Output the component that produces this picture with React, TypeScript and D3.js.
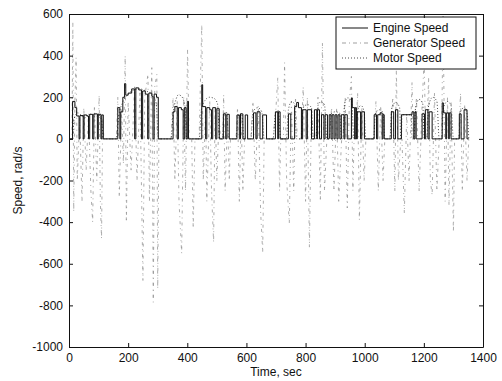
import React, { useEffect, useRef } from "react";
import * as d3 from "d3";

const W = 502;
const H = 381;
const MARGIN = { top: 14, right: 19, bottom: 34, left: 69 };

type Pt = [number, number];

// engine speed, rad/s (step changes)
const engineSpeed: Pt[] = [
  [0, 0], [12, 180], [20, 150], [26, 110], [34, 0], [37, 112], [48, 0], [51, 115], [60, 110], [66, 0],
  [70, 118], [80, 0], [84, 120], [96, 0], [99, 118], [108, 0], [111, 115], [116, 0],
  [165, 150], [172, 0], [175, 130], [182, 200], [188, 265], [192, 210], [200, 220], [212, 240], [222, 0],
  [226, 245], [236, 235], [245, 0], [249, 230], [258, 215], [266, 0], [270, 220], [280, 205], [284, 0],
  [288, 215], [296, 200], [302, 0],
  [352, 130], [358, 155], [366, 0], [370, 150], [380, 140], [386, 0], [390, 150], [396, 0], [400, 180], [404, 0],
  [449, 260], [452, 155], [462, 0], [466, 150], [476, 140], [482, 0], [486, 150], [496, 0], [500, 145], [508, 0],
  [522, 120], [530, 0], [534, 118], [542, 0], [568, 115], [576, 0], [580, 120], [588, 0],
  [596, 115], [604, 0], [624, 125], [632, 0], [636, 130], [646, 0], [655, 115], [668, 0],
  [698, 130], [706, 0], [708, 130], [714, 0],
  [742, 120], [750, 0], [763, 155], [770, 175], [776, 150], [786, 0], [790, 140], [802, 0], [806, 140], [820, 0],
  [830, 140], [838, 0], [840, 140], [847, 0], [854, 116], [862, 0], [866, 116], [874, 0],
  [880, 116], [886, 0], [890, 116], [896, 0], [900, 116], [906, 0], [910, 116], [916, 0], [921, 116], [930, 0], [933, 116], [941, 0],
  [955, 197], [958, 150], [966, 0], [968, 150], [972, 0], [975, 130], [986, 0], [990, 130], [999, 0],
  [1032, 116], [1040, 0], [1044, 116], [1052, 125], [1059, 0], [1062, 116], [1066, 0],
  [1090, 130], [1098, 0], [1104, 140], [1112, 0],
  [1124, 116], [1160, 130], [1166, 0], [1170, 130], [1174, 0],
  [1194, 120], [1202, 0], [1205, 140], [1214, 0], [1218, 130], [1228, 0],
  [1262, 173], [1266, 125], [1274, 0], [1277, 125], [1284, 0], [1286, 125], [1292, 0],
  [1320, 120], [1326, 0], [1336, 140], [1346, 0], [1352, 0],
];

// generator speed, rad/s
const generatorSpeed: Pt[] = [
  [0, 0], [10, 0], [13, 560], [16, -350], [20, 180], [24, 390], [28, -200], [36, 100], [44, -300], [50, 150],
  [58, -150], [66, 120], [74, -250], [80, -400], [86, 160], [94, -200], [102, 210], [106, -300], [110, -480], [114, 100], [118, 0],
  [160, 0], [165, 200], [170, -280], [178, 150], [184, -120], [190, 400], [194, -400], [200, 180], [210, -150],
  [222, 250], [230, -200], [240, 230], [250, -680], [256, 200], [267, 310], [272, -300], [280, 342], [285, -785],
  [290, 250], [297, 310], [300, -720], [304, 0],
  [345, 0], [352, 200], [358, -200], [366, 180], [372, -300], [381, -550], [388, 200], [394, -250], [401, 430], [406, 0],
  [415, 0], [420, -430], [426, 0],
  [440, 0], [449, 550], [454, -200], [462, 150], [466, -300], [476, 180], [482, -250], [489, -497], [494, 150], [500, -200], [508, 120], [512, 0],
  [520, 0], [523, 212], [528, -250], [536, 100], [542, -200], [546, 0],
  [565, 0], [570, 150], [576, -300], [582, 120], [588, -250], [594, 0],
  [615, 0], [622, 180], [630, -200], [640, 160], [648, -350], [655, -545], [660, 0],
  [690, 0], [700, 150], [706, 294], [712, -250], [716, 0],
  [725, 0], [729, 366], [736, -200], [745, -405], [752, 180], [760, -250], [766, 200], [772, 0],
  [785, 0], [792, 250], [800, -300], [806, 200], [813, -520], [820, 150], [826, 0],
  [835, 0], [842, 200], [850, -300], [857, 460], [864, -250], [872, 0],
  [880, 0], [888, 150], [896, -250], [905, 150], [912, -300], [922, 0],
  [926, 0], [934, 200], [941, -332], [948, 180], [955, 300], [960, -250], [964, 0],
  [970, 0], [976, 220], [982, -390], [990, 150], [998, -200], [1004, 0],
  [1030, 0], [1038, 180], [1046, -250], [1054, 160], [1062, -200], [1068, 0],
  [1085, 0], [1095, 200], [1102, -250], [1107, 330], [1114, -200], [1122, 0],
  [1126, 0], [1134, -356], [1142, 120], [1150, -200], [1160, 270], [1164, 0],
  [1166, 0], [1175, 200], [1184, -250], [1194, 160], [1201, 380], [1206, 0],
  [1210, 0], [1216, 294], [1222, -200], [1228, -270], [1236, 220], [1244, -250], [1252, 0],
  [1260, 0], [1265, 590], [1272, -300], [1280, 200], [1285, -318], [1292, 180], [1300, -448], [1304, 0],
  [1318, 0], [1324, 220], [1330, -250], [1338, 160], [1346, -200], [1352, 0],
];

// motor speed, rad/s
const motorSpeed: Pt[] = [
  [0, 0], [10, 0], [18, 100], [30, 125], [40, 115], [52, 100], [62, 110], [75, 120], [88, 105], [100, 115], [110, 90], [116, 0],
  [160, 0], [168, 110], [180, 170], [200, 215], [220, 235], [240, 240], [260, 230], [280, 215], [295, 170], [302, 0],
  [345, 0], [352, 120], [362, 190], [370, 212], [380, 205], [392, 160], [398, 0],
  [440, 0], [448, 140], [460, 185], [475, 200], [490, 195], [502, 170], [510, 0],
  [518, 0], [524, 110], [532, 130], [541, 0],
  [565, 0], [572, 110], [584, 122], [592, 0],
  [615, 0], [622, 130], [638, 150], [652, 130], [660, 0],
  [690, 0], [698, 120], [708, 135], [716, 0],
  [735, 0], [742, 140], [752, 178], [762, 170], [770, 0],
  [785, 0], [792, 150], [806, 165], [820, 150], [826, 0],
  [835, 0], [842, 160], [852, 178], [864, 165], [872, 0],
  [880, 0], [886, 120], [900, 130], [915, 125], [922, 0],
  [926, 0], [932, 170], [943, 197], [955, 185], [964, 0],
  [970, 0], [976, 140], [988, 160], [998, 130], [1004, 0],
  [1030, 0], [1036, 120], [1050, 140], [1062, 125], [1068, 0],
  [1085, 0], [1092, 150], [1105, 175], [1118, 150], [1122, 0],
  [1124, 0], [1126, 116], [1158, 116], [1160, 0],
  [1166, 0], [1172, 150], [1184, 190], [1196, 170], [1202, 0],
  [1210, 0], [1216, 160], [1230, 200], [1244, 180], [1252, 0],
  [1260, 0], [1266, 150], [1280, 180], [1292, 160], [1300, 0],
  [1318, 0], [1324, 130], [1336, 150], [1346, 120], [1352, 0],
];

const xTicks = [0, 200, 400, 600, 800, 1000, 1200, 1400];
const yTicks = [-1000, -800, -600, -400, -200, 0, 200, 400, 600];
const legendNames = ["Engine Speed", "Generator Speed", "Motor Speed"];

const FONT = "'Liberation Sans', Arial, Helvetica, sans-serif";

const App = () => {
  const axesRef = useRef<SVGGElement>(null);
  const bw = W - MARGIN.left - MARGIN.right;
  const bh = H - MARGIN.top - MARGIN.bottom;

  const x = d3.scaleLinear().domain([0, 1400]).range([0, bw]);
  const y = d3.scaleLinear().domain([-1000, 600]).range([bh, 0]);
  const fmt = (d: any) => String(d); // plain "-1000", no thousands separator

  useEffect(() => {
    const g = d3.select(axesRef.current);
    g.selectAll("*").remove();
    const styleAxis = (sel: any, labels: boolean) => {
      sel.select(".domain").attr("stroke", "#111").attr("stroke-width", 1);
      sel.selectAll(".tick line").attr("stroke", "#111");
      sel.selectAll(".tick text")
        .attr("font-family", FONT)
        .attr("font-size", 12)
        .attr("fill", "#111");
      if (!labels) sel.selectAll(".tick text").remove();
    };
    g.append("g")
      .attr("transform", `translate(0,${bh})`)
      .call(d3.axisBottom(x).tickValues(xTicks).tickFormat(fmt).tickSizeInner(-4).tickSizeOuter(0).tickPadding(6))
      .call((s) => styleAxis(s, true));
    g.append("g")
      .call(d3.axisTop(x).tickValues(xTicks).tickSizeInner(-4).tickSizeOuter(0))
      .call((s) => styleAxis(s, false));
    g.append("g")
      .call(d3.axisLeft(y).tickValues(yTicks).tickFormat(fmt).tickSizeInner(-4).tickSizeOuter(0).tickPadding(6))
      .call((s) => styleAxis(s, true));
    g.append("g")
      .attr("transform", `translate(${bw},0)`)
      .call(d3.axisRight(y).tickValues(yTicks).tickSizeInner(-4).tickSizeOuter(0))
      .call((s) => styleAxis(s, false));
  }, []);

  const stepLine = d3.line<Pt>().x((d) => x(d[0])).y((d) => y(d[1])).curve(d3.curveStepAfter);
  const plainLine = d3.line<Pt>().x((d) => x(d[0])).y((d) => y(d[1]));
  const smoothLine = d3.line<Pt>().x((d) => x(d[0])).y((d) => y(d[1])).curve(d3.curveMonotoneX);

  const legendStyles = [
    { stroke: "#111", dash: "none", width: 1 },
    { stroke: "#777", dash: "4,3,1,3", width: 0.7 },
    { stroke: "#333", dash: "1,2", width: 0.9 },
  ];

  const lx = 336 - MARGIN.left;
  const ly = 17 - MARGIN.top;

  return (
    <svg width={W} height={H} style={{ position: "absolute", left: 0, top: 0, background: "#fff" }}>
      <g transform={`translate(${MARGIN.left},${MARGIN.top})`}>
        <path d={plainLine(generatorSpeed) || ""} fill="none" stroke="#888" strokeWidth={0.7} strokeDasharray="3,4,1,4" />
        <path d={smoothLine(motorSpeed) || ""} fill="none" stroke="#333" strokeWidth={0.9} strokeDasharray="1,2" />
        <path d={stepLine(engineSpeed) || ""} fill="none" stroke="#111" strokeWidth={1} />

        <rect x={lx} y={ly} width={140} height={52} fill="#fff" stroke="#111" strokeWidth={1} />
        {legendNames.map((name, i) => (
          <g key={name} transform={`translate(${lx},${ly + 11 + i * 15})`}>
            <line x1={6} x2={32} y1={0} y2={0} stroke={legendStyles[i].stroke}
              strokeWidth={legendStyles[i].width} strokeDasharray={legendStyles[i].dash} />
            <text x={37} y={4} fontFamily={FONT} fontSize={12} fill="#111">{name}</text>
          </g>
        ))}
      </g>
      <g ref={axesRef} transform={`translate(${MARGIN.left},${MARGIN.top})`} />
      <text x={MARGIN.left + bw / 2} y={376} textAnchor="middle" fontFamily={FONT} fontSize={12} fill="#111">
        Time, sec
      </text>
      <text transform={`translate(22,${MARGIN.top + bh / 2}) rotate(-90)`} textAnchor="middle"
        fontFamily={FONT} fontSize={12} fill="#111">
        Speed, rad/s
      </text>
    </svg>
  );
};

export default App;
